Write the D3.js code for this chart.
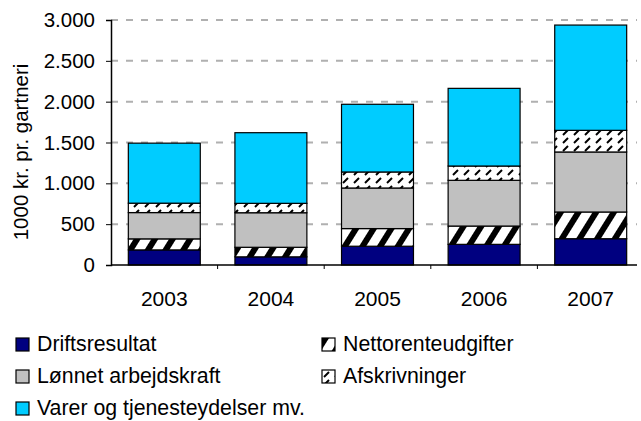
<!DOCTYPE html>
<html>
<head>
<meta charset="utf-8">
<script src="https://cdn.jsdelivr.net/npm/d3@7"></script>
<style>
  body { margin: 0; background: #fff; }
  svg { display: block; font-family: "Liberation Sans", Arial, sans-serif; }
</style>
</head>
<body>
<svg id="chart" width="641" height="421"></svg>
<script>
// data (1000 kr. pr. gartneri)
const years = ["2003", "2004", "2005", "2006", "2007"];
const driftsresultat = [185, 100, 230, 253, 322];
const nettorenteudgifter = [135, 117, 216, 224, 327];
const lonnetArbejdskraft = [322, 423, 497, 560, 735];
const afskrivninger = [115, 115, 196, 175, 265];
const varerOgTjenester = [735, 865, 829, 951, 1289];
const yTicks = [0, 500, 1000, 1500, 2000, 2500, 3000];

const seriesKeys = ["drift", "netto", "lonnet", "afskr", "varer"];
const seriesNames = {
  drift: "Driftsresultat",
  netto: "Nettorenteudgifter",
  lonnet: "Lønnet arbejdskraft",
  afskr: "Afskrivninger",
  varer: "Varer og tjenesteydelser mv."
};
const fills = {
  drift: "#000080",
  netto: "url(#wideDiag)",
  lonnet: "#c0c0c0",
  afskr: "url(#dashDiag)",
  varer: "#00ccff"
};

const rows = years.map((y, i) => ({
  year: y,
  drift: driftsresultat[i],
  netto: nettorenteudgifter[i],
  lonnet: lonnetArbejdskraft[i],
  afskr: afskrivninger[i],
  varer: varerOgTjenester[i]
}));

const svg = d3.select("#chart");
const plot = { left: 111, right: 637, top: 20, bottom: 265 };

// patterns
const defs = svg.append("defs");
const wide = defs.append("pattern")
  .attr("id", "wideDiag")
  .attr("patternUnits", "userSpaceOnUse")
  .attr("width", 15).attr("height", 15)
  .attr("patternTransform", "rotate(32)");
wide.append("rect").attr("width", 15).attr("height", 15).attr("fill", "#fff");
wide.append("rect").attr("width", 6).attr("height", 15).attr("fill", "#000");

const dash = defs.append("pattern")
  .attr("id", "dashDiag")
  .attr("patternUnits", "userSpaceOnUse")
  .attr("width", 11).attr("height", 8);
dash.append("rect").attr("width", 11).attr("height", 8).attr("fill", "#fff");
dash.append("line")
  .attr("x1", 2).attr("y1", 7).attr("x2", 7).attr("y2", 2)
  .attr("stroke", "#000").attr("stroke-width", 2);

const x = d3.scaleBand()
  .domain(years)
  .range([plot.left, plot.left + 5 * 106.6])
  .paddingInner(0.325)
  .paddingOuter(0.1625);

const y = d3.scaleLinear()
  .domain([0, 3000])
  .range([plot.bottom, plot.top]);

const fmt = d3.formatLocale({ decimal: ",", thousands: ".", grouping: [3], currency: ["", ""] }).format(",d");

// gridlines
svg.append("g")
  .selectAll("line")
  .data(yTicks.filter(d => d > 0))
  .join("line")
  .attr("x1", plot.left).attr("x2", plot.right)
  .attr("y1", d => y(d)).attr("y2", d => y(d))
  .attr("stroke", "#b0b0b0")
  .attr("stroke-width", 2)
  .attr("stroke-dasharray", "7,8");

// y axis
const yAxis = svg.append("g")
  .attr("transform", `translate(${plot.left},0)`)
  .call(d3.axisLeft(y).tickValues(yTicks).tickFormat(fmt).tickSize(5).tickPadding(11));
yAxis.select(".domain").attr("stroke", "#000").attr("stroke-width", 1.5);
yAxis.selectAll(".tick line").attr("stroke", "#000");
yAxis.selectAll("text").attr("font-size", 20.5).attr("fill", "#000")
  .attr("font-family", "Liberation Sans, Arial, sans-serif");

// stacked bars
const stack = d3.stack().keys(seriesKeys);
const layers = stack(rows);

svg.append("g")
  .selectAll("g")
  .data(layers)
  .join("g")
  .attr("fill", d => fills[d.key])
  .selectAll("rect")
  .data(d => d)
  .join("rect")
  .attr("x", d => x(d.data.year))
  .attr("width", x.bandwidth())
  .attr("y", d => y(d[1]))
  .attr("height", d => y(d[0]) - y(d[1]))
  .attr("stroke", "#000")
  .attr("stroke-width", 1.2);

// x axis line with category separators
svg.append("line")
  .attr("x1", plot.left).attr("x2", plot.right)
  .attr("y1", plot.bottom).attr("y2", plot.bottom)
  .attr("stroke", "#000").attr("stroke-width", 1.5);

svg.append("g")
  .selectAll("line")
  .data(years.slice(1))
  .join("line")
  .attr("x1", d => x(d) - x.step() * x.paddingInner() / 2)
  .attr("x2", d => x(d) - x.step() * x.paddingInner() / 2)
  .attr("y1", plot.bottom).attr("y2", plot.bottom + 4)
  .attr("stroke", "#000");

svg.append("g")
  .selectAll("text")
  .data(years)
  .join("text")
  .attr("x", d => x(d) + x.bandwidth() / 2)
  .attr("y", 306)
  .attr("text-anchor", "middle")
  .attr("font-size", 21)
  .text(d => d);

// y title
svg.append("text")
  .attr("transform", "translate(28,152) rotate(-90)")
  .attr("text-anchor", "middle")
  .attr("font-size", 20.5)
  .text("1000 kr. pr. gartneri");

// legend
const legendItems = [
  { key: "drift", col: 0, row: 0 },
  { key: "netto", col: 1, row: 0 },
  { key: "lonnet", col: 0, row: 1 },
  { key: "afskr", col: 1, row: 1 },
  { key: "varer", col: 0, row: 2 }
];
const colX = [16, 322];
const legend = svg.append("g")
  .selectAll("g")
  .data(legendItems)
  .join("g")
  .attr("transform", d => `translate(${colX[d.col]},${338 + d.row * 32})`);
legend.append("rect")
  .attr("width", 13).attr("height", 13)
  .attr("fill", d => fills[d.key])
  .attr("stroke", "#000").attr("stroke-width", 1.2);
legend.append("text")
  .attr("x", 21)
  .attr("y", 13)
  .attr("font-size", 21.3)
  .text(d => seriesNames[d.key]);
</script>
</body>
</html>
